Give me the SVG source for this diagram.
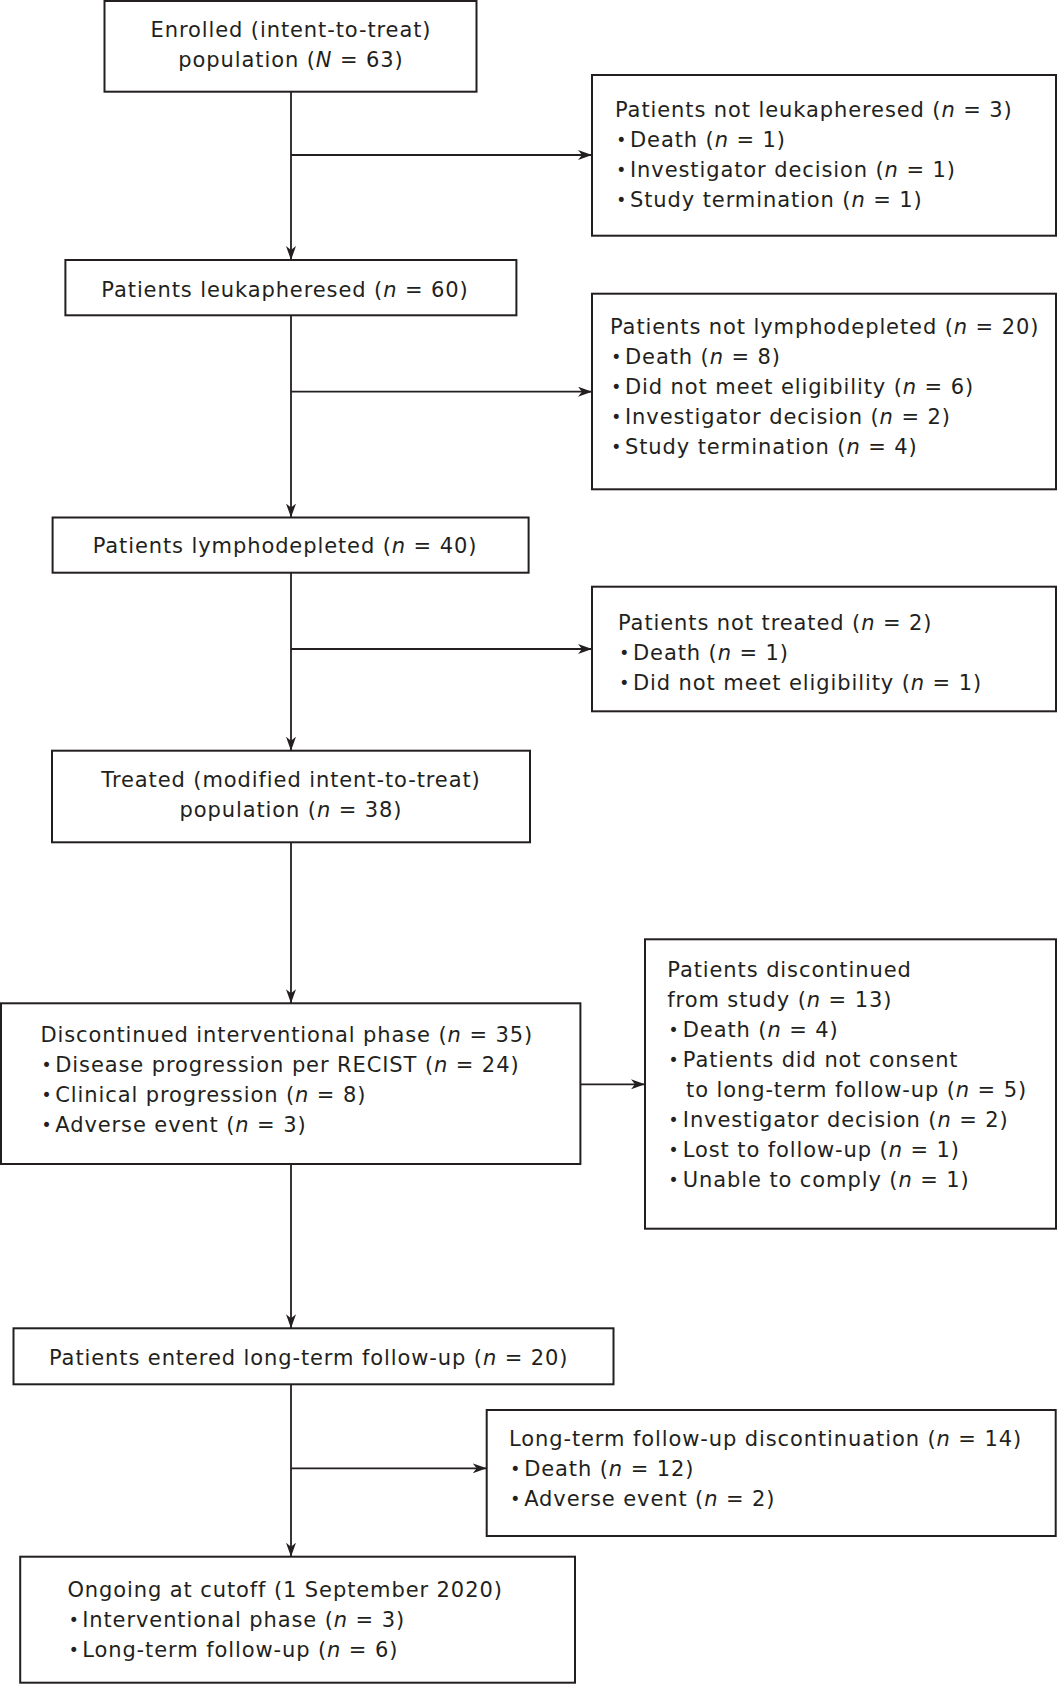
<svg xmlns="http://www.w3.org/2000/svg" width="1057" height="1684" viewBox="0 0 1057 1684">
<style>
.box{fill:#fff;stroke:#231f20;stroke-width:2}
.t{font-family:"DejaVu Sans","Liberation Sans",sans-serif;font-size:21px;letter-spacing:0.9px;fill:#231f20}
.c{text-anchor:middle}
.i{font-style:italic}
.b{font-size:17px}
.ln{stroke:#231f20;stroke-width:1.8;fill:none}
</style>
<defs>
<marker id="ah" viewBox="0 0 14 10" refX="14" refY="5" markerWidth="14" markerHeight="10" markerUnits="userSpaceOnUse" orient="auto">
<path d="M0,0 L14,5 L0,10 L4,5 Z" fill="#231f20"/>
</marker>
</defs>
<rect width="1057" height="1684" fill="#fff"/>
<g id="connectors">
<path class="ln" d="M291,92 V260" marker-end="url(#ah)"/>
<path class="ln" d="M291,155 H592" marker-end="url(#ah)"/>
<path class="ln" d="M291,315 V517.5" marker-end="url(#ah)"/>
<path class="ln" d="M291,391.7 H592" marker-end="url(#ah)"/>
<path class="ln" d="M291,573 V750.7" marker-end="url(#ah)"/>
<path class="ln" d="M291,649 H592" marker-end="url(#ah)"/>
<path class="ln" d="M291,842 V1003.3" marker-end="url(#ah)"/>
<path class="ln" d="M580.4,1084.3 H645" marker-end="url(#ah)"/>
<path class="ln" d="M291,1164 V1328.3" marker-end="url(#ah)"/>
<path class="ln" d="M291,1384 V1556.7" marker-end="url(#ah)"/>
<path class="ln" d="M291,1468.3 H486.7" marker-end="url(#ah)"/>
</g>
<g id="enrolled">
<rect class="box" x="104.5" y="1" width="372" height="90.7"/>
<text class="t c" x="291" y="36.7">Enrolled (intent-to-treat)</text>
<text class="t c" x="291" y="66.7">population (<tspan class="i">N</tspan> = 63)</text>
</g>
<g id="not-leukapheresed">
<rect class="box" x="592" y="75" width="464" height="160.7"/>
<text class="t" x="615" y="116.7">Patients not leukapheresed (<tspan class="i">n</tspan> = 3)</text>
<text class="t" y="146.7"><tspan class="b" x="616.3" dy="-1">•</tspan><tspan x="630" dy="1">Death (</tspan><tspan class="i">n</tspan> = 1)</text>
<text class="t" y="176.7"><tspan class="b" x="616.3" dy="-1">•</tspan><tspan x="630" dy="1">Investigator decision (</tspan><tspan class="i">n</tspan> = 1)</text>
<text class="t" y="206.7"><tspan class="b" x="616.3" dy="-1">•</tspan><tspan x="630" dy="1">Study termination (</tspan><tspan class="i">n</tspan> = 1)</text>
</g>
<g id="leukapheresed">
<rect class="box" x="65.4" y="260" width="451" height="55.3"/>
<text class="t c" x="285" y="296.7">Patients leukapheresed (<tspan class="i">n</tspan> = 60)</text>
</g>
<g id="not-lymphodepleted">
<rect class="box" x="592" y="293.7" width="464" height="195.6"/>
<text class="t" x="610" y="334">Patients not lymphodepleted (<tspan class="i">n</tspan> = 20)</text>
<text class="t" y="364"><tspan class="b" x="611.3" dy="-1">•</tspan><tspan x="625" dy="1">Death (</tspan><tspan class="i">n</tspan> = 8)</text>
<text class="t" y="394"><tspan class="b" x="611.3" dy="-1">•</tspan><tspan x="625" dy="1">Did not meet eligibility (</tspan><tspan class="i">n</tspan> = 6)</text>
<text class="t" y="424"><tspan class="b" x="611.3" dy="-1">•</tspan><tspan x="625" dy="1">Investigator decision (</tspan><tspan class="i">n</tspan> = 2)</text>
<text class="t" y="454"><tspan class="b" x="611.3" dy="-1">•</tspan><tspan x="625" dy="1">Study termination (</tspan><tspan class="i">n</tspan> = 4)</text>
</g>
<g id="lymphodepleted">
<rect class="box" x="52.6" y="517.5" width="476" height="55.2"/>
<text class="t c" x="285" y="553.3">Patients lymphodepleted (<tspan class="i">n</tspan> = 40)</text>
</g>
<g id="not-treated">
<rect class="box" x="592" y="586.7" width="464" height="124.6"/>
<text class="t" x="618" y="630">Patients not treated (<tspan class="i">n</tspan> = 2)</text>
<text class="t" y="660"><tspan class="b" x="619.3" dy="-1">•</tspan><tspan x="633" dy="1">Death (</tspan><tspan class="i">n</tspan> = 1)</text>
<text class="t" y="690"><tspan class="b" x="619.3" dy="-1">•</tspan><tspan x="633" dy="1">Did not meet eligibility (</tspan><tspan class="i">n</tspan> = 1)</text>
</g>
<g id="treated">
<rect class="box" x="52" y="750.7" width="478" height="91.6"/>
<text class="t c" x="291" y="786.7">Treated (modified intent-to-treat)</text>
<text class="t c" x="291" y="816.7">population (<tspan class="i">n</tspan> = 38)</text>
</g>
<g id="discontinued-interventional">
<rect class="box" x="1" y="1003.3" width="579.4" height="160.7"/>
<text class="t" x="40.4" y="1041.7">Discontinued interventional phase (<tspan class="i">n</tspan> = 35)</text>
<text class="t" y="1071.7"><tspan class="b" x="41.5" dy="-1">•</tspan><tspan x="55.3" dy="1">Disease progression per RECIST (</tspan><tspan class="i">n</tspan> = 24)</text>
<text class="t" y="1101.7"><tspan class="b" x="41.5" dy="-1">•</tspan><tspan x="55.3" dy="1">Clinical progression (</tspan><tspan class="i">n</tspan> = 8)</text>
<text class="t" y="1131.7"><tspan class="b" x="41.5" dy="-1">•</tspan><tspan x="55.3" dy="1">Adverse event (</tspan><tspan class="i">n</tspan> = 3)</text>
</g>
<g id="discontinued-study">
<rect class="box" x="645" y="939.3" width="411" height="289.4"/>
<text class="t" x="667.3" y="976.7">Patients discontinued</text>
<text class="t" x="667.3" y="1006.7">from study (<tspan class="i">n</tspan> = 13)</text>
<text class="t" y="1036.7"><tspan class="b" x="668.6" dy="-1">•</tspan><tspan x="682.8" dy="1">Death (</tspan><tspan class="i">n</tspan> = 4)</text>
<text class="t" y="1066.7"><tspan class="b" x="668.6" dy="-1">•</tspan><tspan x="682.8" dy="1">Patients did not consent</tspan></text>
<text class="t" x="686" y="1096.7">to long-term follow-up (<tspan class="i">n</tspan> = 5)</text>
<text class="t" y="1126.7"><tspan class="b" x="668.6" dy="-1">•</tspan><tspan x="682.8" dy="1">Investigator decision (</tspan><tspan class="i">n</tspan> = 2)</text>
<text class="t" y="1156.7"><tspan class="b" x="668.6" dy="-1">•</tspan><tspan x="682.8" dy="1">Lost to follow-up (</tspan><tspan class="i">n</tspan> = 1)</text>
<text class="t" y="1186.7"><tspan class="b" x="668.6" dy="-1">•</tspan><tspan x="682.8" dy="1">Unable to comply (</tspan><tspan class="i">n</tspan> = 1)</text>
</g>
<g id="entered-ltfu">
<rect class="box" x="13.5" y="1328.3" width="600" height="56"/>
<text class="t c" x="308.7" y="1365">Patients entered long-term follow-up (<tspan class="i">n</tspan> = 20)</text>
</g>
<g id="ltfu-discontinuation">
<rect class="box" x="486.7" y="1410" width="569" height="126"/>
<text class="t" x="509" y="1446">Long-term follow-up discontinuation (<tspan class="i">n</tspan> = 14)</text>
<text class="t" y="1476"><tspan class="b" x="510.3" dy="-1">•</tspan><tspan x="524.2" dy="1">Death (</tspan><tspan class="i">n</tspan> = 12)</text>
<text class="t" y="1506"><tspan class="b" x="510.3" dy="-1">•</tspan><tspan x="524.2" dy="1">Adverse event (</tspan><tspan class="i">n</tspan> = 2)</text>
</g>
<g id="ongoing">
<rect class="box" x="20.2" y="1556.7" width="554.8" height="126"/>
<text class="t" x="67.4" y="1596.7">Ongoing at cutoff (1 September 2020)</text>
<text class="t" y="1626.7"><tspan class="b" x="68.7" dy="-1">•</tspan><tspan x="82.2" dy="1">Interventional phase (</tspan><tspan class="i">n</tspan> = 3)</text>
<text class="t" y="1656.7"><tspan class="b" x="68.7" dy="-1">•</tspan><tspan x="82.2" dy="1">Long-term follow-up (</tspan><tspan class="i">n</tspan> = 6)</text>
</g>
</svg>
